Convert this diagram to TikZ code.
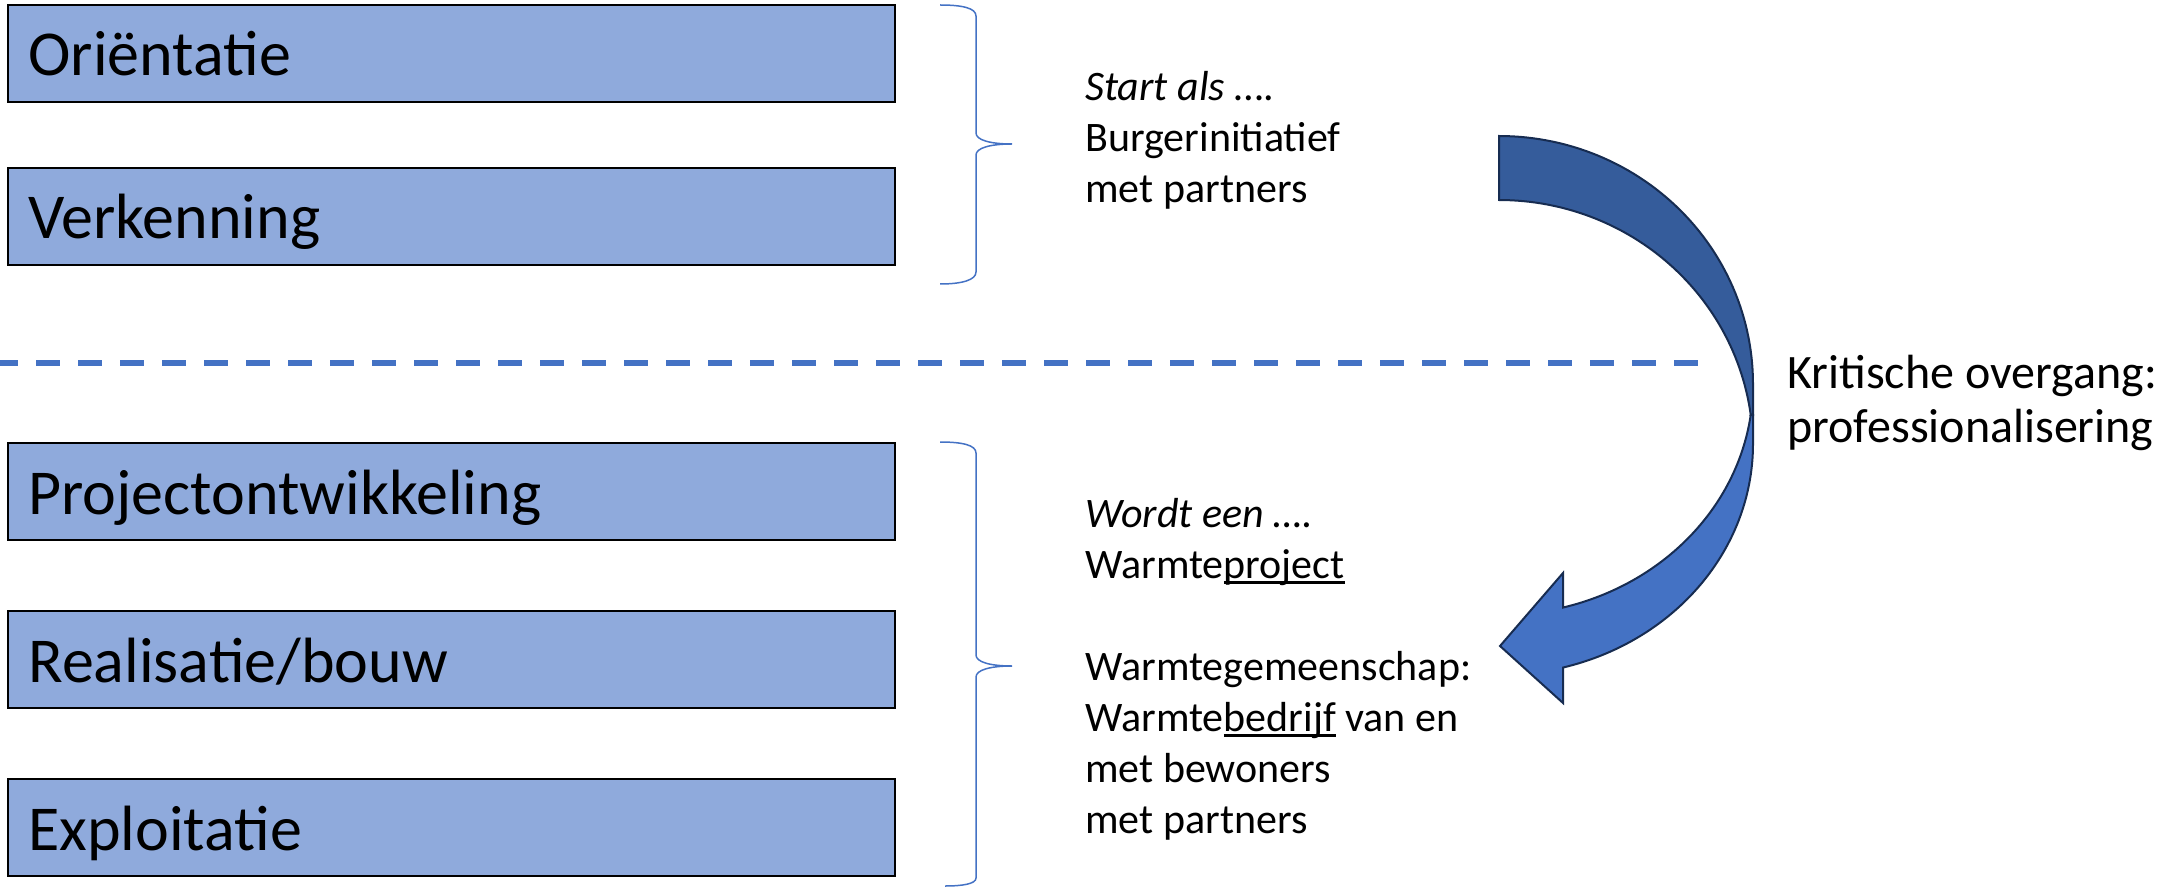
\documentclass[tikz,border=0pt]{standalone}
\usepackage{fontspec}
\setmainfont{Carlito}
\definecolor{boxblue}{HTML}{8FAADC}
\definecolor{lineblue}{HTML}{4472C4}
\definecolor{arrowdark}{HTML}{355C9B}
\definecolor{arrowline}{HTML}{172C51}
\newcommand{\ulword}[1]{\setbox0\hbox{#1}\rlap{\rule[-2.85pt]{\wd0}{1.3pt}}#1}
\begin{document}
\begin{tikzpicture}[x=0.5pt,y=-0.5pt,
  phase/.style={draw=black, line width=1pt, fill=boxblue, minimum width=443.5pt, minimum height=48.5pt, inner sep=0pt, outer sep=0pt},
  phasetext/.style={anchor=base west, inner sep=0pt, font=\fontsize{32}{38}\selectfont},
  desc/.style={anchor=base west, inner sep=0pt, align=left, font=\fontsize{21}{25.5}\selectfont},
  crit/.style={anchor=base west, inner sep=0pt, align=left, font=\fontsize{24}{27}\selectfont},
  brace/.style={draw=lineblue, line width=0.75pt},
  sepline/.style={draw=lineblue, line width=3pt, dash pattern=on 12pt off 9pt},
  band/.style={draw=arrowline, line width=1pt, line join=miter}]
\useasboundingbox (0,0) rectangle (2172,887);

% phase boxes
\node[phase] (b1) at (451.5,53.5) {};
\node[phase] (b2) at (451.5,216.5) {};
\node[phase] (b3) at (451.5,491.5) {};
\node[phase] (b4) at (451.5,659.5) {};
\node[phase] (b5) at (451.5,827.5) {};
\node[phasetext] (t1) at (28,76) {Oriëntatie};
\node[phasetext] (t2) at (28,239) {Verkenning};
\node[phasetext] (t3) at (28,514) {Projectontwikkeling};
\node[phasetext] (t4) at (28,682) {Realisatie/bouw};
\node[phasetext] (t5) at (28,850) {Exploitatie};

% braces
\draw[brace] (940,5) .. controls (962,5) and (976,8) .. (976,16) -- (976,133)
  .. controls (976,140) and (990,144) .. (1012,144)
  .. controls (990,144) and (976,148) .. (976,155) -- (976,272)
  .. controls (976,280) and (962,284) .. (940,284);
\draw[brace] (940,442) .. controls (962,442) and (976,445) .. (976,453) -- (976,655)
  .. controls (976,662) and (990,666) .. (1012,666)
  .. controls (990,666) and (976,670) .. (976,677) -- (976,878)
  .. controls (976,884) and (962,886) .. (945,886);

% dashed separator
\coordinate (dl) at (-6,363);
\coordinate (dr) at (1698,363);
\draw[sepline] (dl) -- (dr);

% descriptions (base anchor = baseline of last line)
\node[desc] (d1) at (1085,203) {\textit{Start als} ….\\Burgerinitiatief\\met partners};
\node[desc] (d2) at (1085,833) {\textit{Wordt een ….}\\Warmte\ulword{project}\\[25.5pt]Warmtegemeenschap:\\Warmte\ulword{bedrijf} van en\\met bewoners\\met partners};

% curved arrow
\filldraw[band, fill=arrowdark] (1499,136)
  -- plot[domain=90:0, samples=60] ({1499+254*cos(\x)}, {384-248*sin(\x)})
  -- (1753,415) -- (1750.7,414.9)
  -- plot[domain=7.68:90, samples=60] ({1499+254*cos(\x)}, {448-248*sin(\x)})
  -- cycle;
\filldraw[band, fill=lineblue] (1750.7,414.9)
  -- plot[domain=7.68:75.4, samples=60] ({1499+254*cos(\x)}, {384+231*sin(\x)})
  -- (1563,573) -- (1500,646) -- (1563,703)
  -- plot[domain=75.4:0, samples=60] ({1499+254*cos(\x)}, {444+231*sin(\x)})
  -- (1753,415) -- cycle;

\node[crit] (k) at (1787,442) {Kritische overgang:\\professionalisering};
\end{tikzpicture}
\end{document}
